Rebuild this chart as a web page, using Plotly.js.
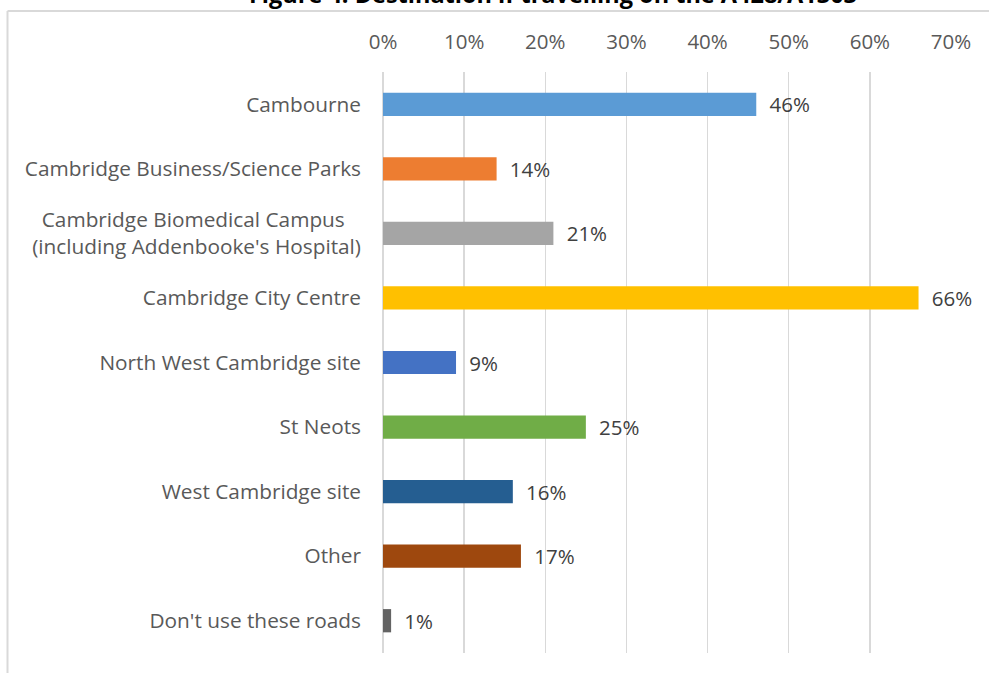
<!DOCTYPE html>
<html>
<head>
<meta charset="utf-8">
<script src="https://cdn.plot.ly/plotly-3.0.1.min.js"></script>
<style>html,body{margin:0;padding:0;background:#fff;}</style>
</head>
<body>
<div id="chart" style="width:989px;height:673px;"></div>
<script>
const categories = [
  "Cambourne",
  "Cambridge Business/Science Parks",
  "Cambridge Biomedical Campus<br>(including Addenbooke's Hospital)",
  "Cambridge City Centre",
  "North West Cambridge site",
  "St Neots",
  "West Cambridge site",
  "Other",
  "Don't use these roads"
];
const values = [0.46, 0.14, 0.21, 0.66, 0.09, 0.25, 0.16, 0.17, 0.01];
const barColors = ["#5B9BD5", "#ED7D31", "#A5A5A5", "#FFC000", "#4472C4", "#70AD47", "#255E91", "#9E480E", "#636363"];
const tickVals = [0, 0.1, 0.2, 0.3, 0.4, 0.5, 0.6, 0.7];
const tickText = ["0%", "10%", "20%", "30%", "40%", "50%", "60%", "70%"];
const titleText = "Figure 4: Destination if travelling on the A428/A1303";

const W = 989, H = 673;
const M = {l: 383, r: 38, t: 72, b: 20};
const pw = W - M.l - M.r, ph = H - M.t - M.b;
const px = x => (x - M.l) / pw;
const py = y => (H - M.b - y) / ph;
const FONT = "Open Sans, sans-serif";

// centre the lines of multi-line category labels (as in the reference)
const catLabels = categories.map(c =>
  c.indexOf("<br>") >= 0 ? c.replace("<br>", "\u00a0\u00a0\u00a0<br>") : c);

const trace = {
  type: "bar",
  orientation: "h",
  y: categories,
  x: values,
  marker: {color: barColors},
  width: 0.36,
  text: values.map(v => Math.round(v * 100) + "%"),
  texttemplate: "\u2002%{text}",
  textposition: "outside",
  constraintext: "none",
  cliponaxis: false,
  textfont: {family: FONT, size: 20.5, color: "#404040"},
  hoverinfo: "skip"
};

const layout = {
  width: W, height: H,
  margin: M,
  paper_bgcolor: "#ffffff",
  plot_bgcolor: "#ffffff",
  showlegend: false,
  title: {
    text: "<b>" + titleText + "</b>",
    font: {family: FONT, size: 23.5, color: "#000000"},
    x: 553 / W, xref: "container", xanchor: "center",
    y: 1 - 3 / H, yref: "container", yanchor: "bottom"
  },
  xaxis: {
    side: "top",
    range: [0, 0.7],
    tickvals: tickVals,
    ticktext: tickText,
    showgrid: true,
    gridcolor: "#d9d9d9",
    gridwidth: 1.5,
    zeroline: true,
    zerolinecolor: "#d9d9d9",
    zerolinewidth: 1.5,
    showline: false,
    ticks: "",
    ticklabelstandoff: 18,
    tickfont: {family: FONT, size: 20.5, color: "#595959"},
    fixedrange: true
  },
  yaxis: {
    type: "category",
    categoryorder: "array",
    categoryarray: categories,
    tickvals: categories,
    ticktext: catLabels,
    autorange: "reversed",
    showgrid: false,
    zeroline: false,
    showline: false,
    ticks: "",
    ticklabelstandoff: 21,
    tickfont: {family: FONT, size: 20.8, color: "#595959"},
    fixedrange: true
  },
  shapes: [
    {type: "line", xref: "paper", yref: "paper",
     x0: px(7.5), x1: px(7.5), y0: py(673), y1: py(11),
     line: {color: "#d9d9d9", width: 2}},
    {type: "line", xref: "paper", yref: "paper",
     x0: px(7.5), x1: px(989), y0: py(11), y1: py(11),
     line: {color: "#d9d9d9", width: 2}}
  ]
};

Plotly.newPlot("chart", [trace], layout, {displayModeBar: false, staticPlot: true});
</script>
</body>
</html>
